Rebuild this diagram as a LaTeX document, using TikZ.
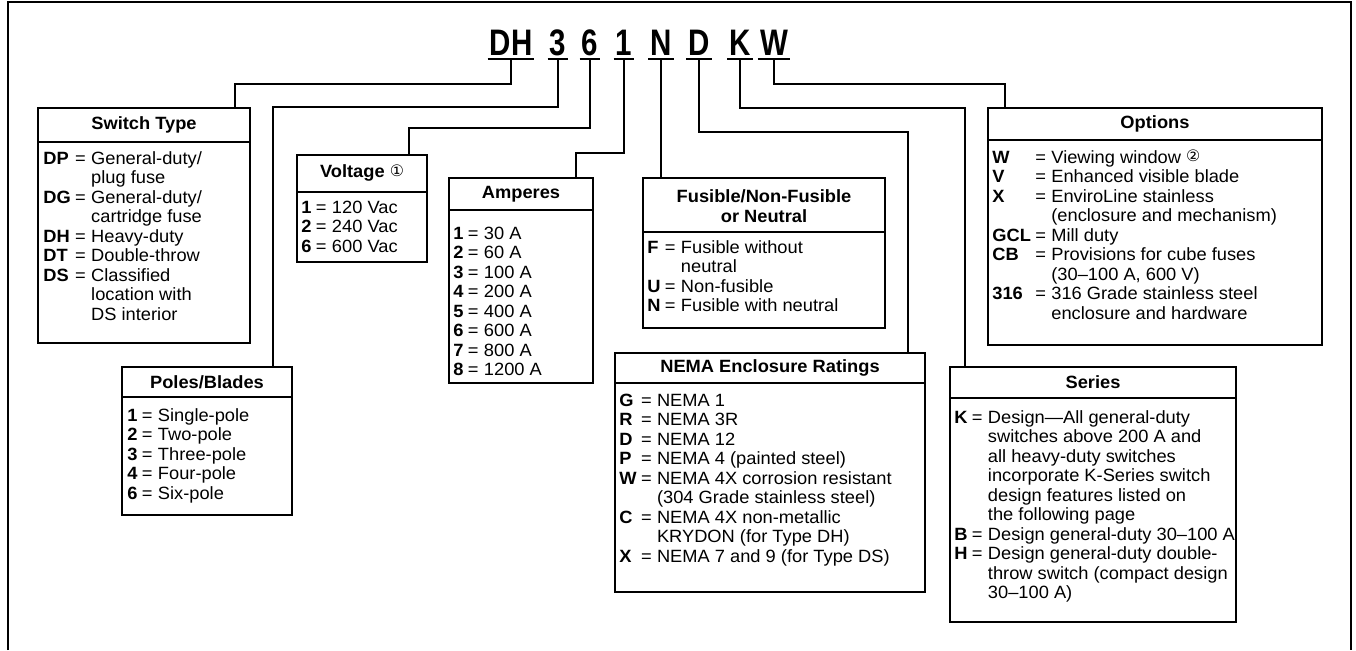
\documentclass[tikz,border=0pt]{standalone}
\usepackage{fontspec}
\usepackage{array}
\setmainfont{Liberation Sans}[FakeStretch=1.03]
\newfontfamily\codefont{Liberation Sans}[FakeStretch=0.8]
\newfontfamily\symfont{DejaVu Sans}
\usetikzlibrary{positioning, fit}
\newcommand{\rowfont}{\fontsize{10.1}{11.1}\selectfont}
\newcolumntype{K}{>{\bfseries}l}
\newcommand{\keyrows}[1]{\begin{tabular}[t]{@{}K@{\hspace{0.25em}}l@{\hspace{0.3em}}l@{}}#1\end{tabular}}
\newcommand{\note}[1]{\raisebox{1pt}{\symfont\mdseries\fontsize{9}{9}\selectfont #1}}

\begin{document}
\begin{tikzpicture}[x=0.02cm, y=-0.02cm,
        wire/.style={line width=1.1pt},
        box/.style={draw, line width=1.1pt, inner sep=0},
        hdr/.style={font=\rowfont\bfseries, align=center, inner sep=0},
        body/.style={font=\rowfont, anchor=base west, inner sep=0},
        code/.style={font=\codefont\fontsize{21}{21}\selectfont\bfseries, anchor=base,
            text depth=0pt, inner xsep=1pt, inner ysep=2pt}]
        \useasboundingbox (0,0) rectangle (1356,650);
        \draw[line width=1.4pt] (8,650) -- (8,2) -- (1351,2) -- (1351,650);

        % catalog number
        \node[code] (cDH) at (511,55) {DH};
        \node[code] (c3)  at (558,55) {3};
        \node[code] (c6)  at (590,55) {6};
        \node[code] (c1)  at (624,55) {1};
        \node[code] (cN)  at (661,55) {N};
        \node[code] (cD)  at (699,55) {D};
        \node[code] (cK)  at (740,55) {K};
        \node[code] (cW)  at (774,55) {W};
        \foreach \c in {cDH,c3,c6,c1,cN,cD,cK,cW}{\draw[wire] (\c.south west) -- (\c.south east);}

        % boxes
        \node[box, fit={(38,108) (250,343)}]   (swtype) {};
        \node[box, fit={(122,367) (292,515)}]  (poles)  {};
        \node[box, fit={(297,155) (427,262)}]  (volt)   {};
        \node[box, fit={(449,178) (593,383)}]  (amps)   {};
        \node[box, fit={(643,178) (885,328)}]  (fuse)   {};
        \node[box, fit={(615,353) (925,592)}]  (nema)   {};
        \node[box, fit={(988,108) (1322,345)}] (opts)   {};
        \node[box, fit={(950,367) (1236,622)}] (series) {};
        \draw[wire] (38,142) -- (250,142);
        \draw[wire] (122,397) -- (292,397);
        \draw[wire] (297,192) -- (427,192);
        \draw[wire] (449,210) -- (593,210);
        \draw[wire] (643,232) -- (885,232);
        \draw[wire] (615,383) -- (925,383);
        \draw[wire] (988,140) -- (1322,140);
        \draw[wire] (950,398) -- (1236,398);

        % headers
        \node[hdr] (swtypeH) at (144,125)  {Switch Type};
        \node[hdr] (polesH)  at (207,382)  {Poles/Blades};
        \node[hdr] (voltH)   at (362,173)  {Voltage \note{①}};
        \node[hdr] (ampsH)   at (521,194)  {Amperes};
        \node[hdr] (fuseH)   at (764,206)  {Fusible/Non-Fusible\\or Neutral};
        \node[hdr] (nemaH)   at (770,368)  {NEMA Enclosure Ratings};
        \node[hdr] (optsH)   at (1155,124) {Options};
        \node[hdr] (seriesH) at (1093,382) {Series};

        % entries
        \node[body] (swtypeB) at (43,164) {\keyrows{
            DP & = & General-duty/\\ & & plug fuse\\
            DG & = & General-duty/\\ & & cartridge fuse\\
            DH & = & Heavy-duty\\
            DT & = & Double-throw\\
            DS & = & Classified\\ & & location with\\ & & DS interior}};
        \node[body] (polesB) at (127,421) {\keyrows{
            1 & = & Single-pole\\ 2 & = & Two-pole\\ 3 & = & Three-pole\\
            4 & = & Four-pole\\ 6 & = & Six-pole}};
        \node[body] (voltB) at (301,213) {\keyrows{
            1 & = & 120 Vac\\ 2 & = & 240 Vac\\ 6 & = & 600 Vac}};
        \node[body] (ampsB) at (453,239) {\keyrows{
            1 & = & 30 A\\ 2 & = & 60 A\\ 3 & = & 100 A\\ 4 & = & 200 A\\
            5 & = & 400 A\\ 6 & = & 600 A\\ 7 & = & 800 A\\ 8 & = & 1200 A}};
        \node[body] (fuseB) at (647,253) {\keyrows{
            F & = & Fusible without\\ & & neutral\\
            U & = & Non-fusible\\
            N & = & Fusible with neutral}};
        \node[body] (nemaB) at (619,406) {\keyrows{
            G & = & NEMA 1\\ R & = & NEMA 3R\\ D & = & NEMA 12\\
            P & = & NEMA 4 (painted steel)\\
            W & = & NEMA 4X corrosion resistant\\ & & (304 Grade stainless steel)\\
            C & = & NEMA 4X non-metallic\\ & & KRYDON (for Type DH)\\
            X & = & NEMA 7 and 9 (for Type DS)}};
        \node[body] (optsB) at (992,163) {\keyrows{
            W & = & Viewing window \note{②}\\
            V & = & Enhanced visible blade\\
            X & = & EnviroLine stainless\\ & & (enclosure and mechanism)\\
            GCL & = & Mill duty\\
            CB & = & Provisions for cube fuses\\ & & (30–100 A, 600 V)\\
            316 & = & 316 Grade stainless steel\\ & & enclosure and hardware}};
        \node[body] (seriesB) at (954,423) {\keyrows{
            K & = & Design—All general-duty\\ & & switches above 200 A and\\
            & & all heavy-duty switches\\ & & incorporate K-Series switch\\
            & & design features listed on\\ & & the following page\\
            B & = & Design general-duty 30–100 A\\
            H & = & Design general-duty double-\\ & & throw switch (compact design\\
            & & 30–100 A)}};

        % leader lines
        \coordinate (jDH) at (235,84);
        \coordinate (j3)  at (273,107);
        \coordinate (j6)  at (409,128);
        \coordinate (j1)  at (576,153);
        \coordinate (jD)  at (908,132);
        \coordinate (jK)  at (965,108);
        \coordinate (jW)  at (1005,84);
        \draw[wire] (cDH.south) |- (jDH) -- (jDH |- swtype.north);
        \draw[wire] (c3.south) |- (j3) -- (j3 |- poles.north);
        \draw[wire] (c6.south) |- (j6) -- (j6 |- volt.north);
        \draw[wire] (c1.south) |- (j1) -- (j1 |- amps.north);
        \draw[wire] (cN.south) -- (cN.south |- fuse.north);
        \draw[wire] (cD.south) |- (jD) -- (jD |- nema.north);
        \draw[wire] (cK.south) |- (jK) -- (jK |- series.north);
        \draw[wire] (cW.south) |- (jW) -- (jW |- opts.north);
\end{tikzpicture}
\end{document}
